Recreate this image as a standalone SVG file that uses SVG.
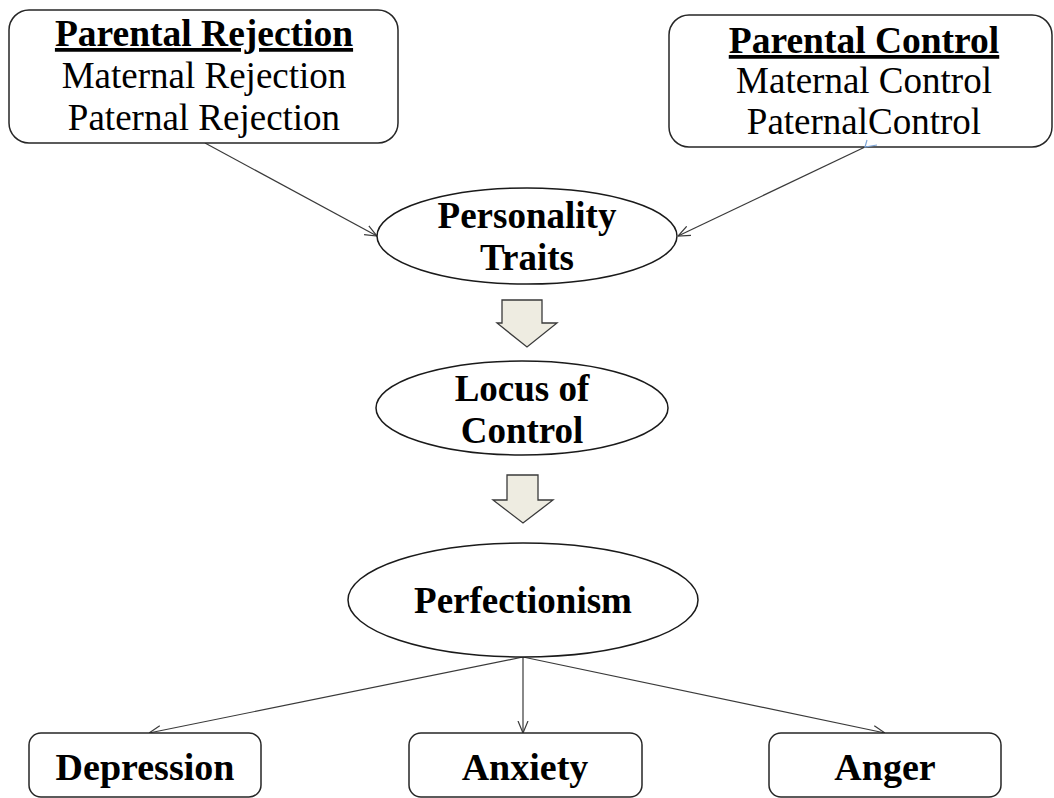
<svg xmlns="http://www.w3.org/2000/svg" width="1054" height="798" viewBox="0 0 1054 798">
<defs>
<style>
text{font-family:"Liberation Serif","Times New Roman",serif;fill:#000;text-anchor:middle}
.b{font-weight:bold}
.u{text-decoration:underline}
.box{fill:#fff;stroke:#262626;stroke-width:1.5}
.ell{fill:#fff;stroke:#1a1a1a;stroke-width:1.5}
.blk{fill:#EEECE1;stroke:#3a3a3a;stroke-width:1.3}
.con{stroke:#3a3a3a;stroke-width:1.2;fill:none;marker-end:url(#ah)}
</style>
<marker id="ah" viewBox="0 0 12 12" refX="12" refY="6" markerWidth="12" markerHeight="12" markerUnits="userSpaceOnUse" orient="auto">
<path d="M0,1 L12,6 L0,11" fill="none" stroke="#3a3a3a" stroke-width="1.2"/>
</marker>
</defs>
<rect width="1054" height="798" fill="#fff"/>
<g id="connectors">
<line class="con" x1="205" y1="143" x2="377" y2="236"/>
<line class="con" x1="865" y1="147" x2="678" y2="236"/>
<line class="con" x1="523" y1="657" x2="149" y2="733"/>
<line class="con" x1="523" y1="657" x2="523" y2="733"/>
<line class="con" x1="523" y1="657" x2="885" y2="733"/>
<path d="M502,300 H542 V323 H557 L527,347 L497,323 H502 Z" class="blk"/>
<path d="M507,475 H538 V500 H553 L523,523 L493,500 H507 Z" class="blk"/>
</g>
<g id="parental-rejection">
<rect class="box" x="9" y="10" width="389" height="133" rx="20"/>
<text x="204" y="46" font-size="37.5" class="b u">Parental Rejection</text>
<text x="204" y="88" font-size="37">Maternal Rejection</text>
<text x="204" y="130" font-size="37">Paternal Rejection</text>
</g>
<g id="parental-control">
<rect class="box" x="669" y="15" width="383" height="132" rx="20"/>
<text x="864" y="53" font-size="37.5" class="b u">Parental Control</text>
<text x="864" y="93" font-size="37">Maternal Control</text>
<text x="864" y="134" font-size="37">PaternalControl</text>
<path d="M867,140 L865,147 L877,145" fill="none" stroke="#7ea6d8" stroke-width="1.2"/>
</g>
<g id="personality-traits">
<ellipse class="ell" cx="527" cy="236" rx="150" ry="48"/>
<text x="527" y="228" font-size="37" class="b">Personality</text>
<text x="527" y="270" font-size="37" class="b">Traits</text>
</g>
<g id="locus-of-control">
<ellipse class="ell" cx="522" cy="408" rx="146" ry="47"/>
<text x="522" y="401" font-size="37" class="b">Locus of</text>
<text x="522" y="443" font-size="37" class="b">Control</text>
</g>
<g id="perfectionism">
<ellipse class="ell" cx="523" cy="600" rx="175" ry="57"/>
<text x="523" y="613" font-size="37" class="b">Perfectionism</text>
</g>
<g id="depression">
<rect class="box" x="29" y="733" width="232" height="64" rx="12"/>
<text x="145" y="780" font-size="38" class="b">Depression</text>
</g>
<g id="anxiety">
<rect class="box" x="409" y="733" width="233" height="64" rx="12"/>
<text x="525" y="780" font-size="38" class="b">Anxiety</text>
</g>
<g id="anger">
<rect class="box" x="769" y="733" width="232" height="64" rx="12"/>
<text x="885" y="780" font-size="38" class="b">Anger</text>
</g>
</svg>
